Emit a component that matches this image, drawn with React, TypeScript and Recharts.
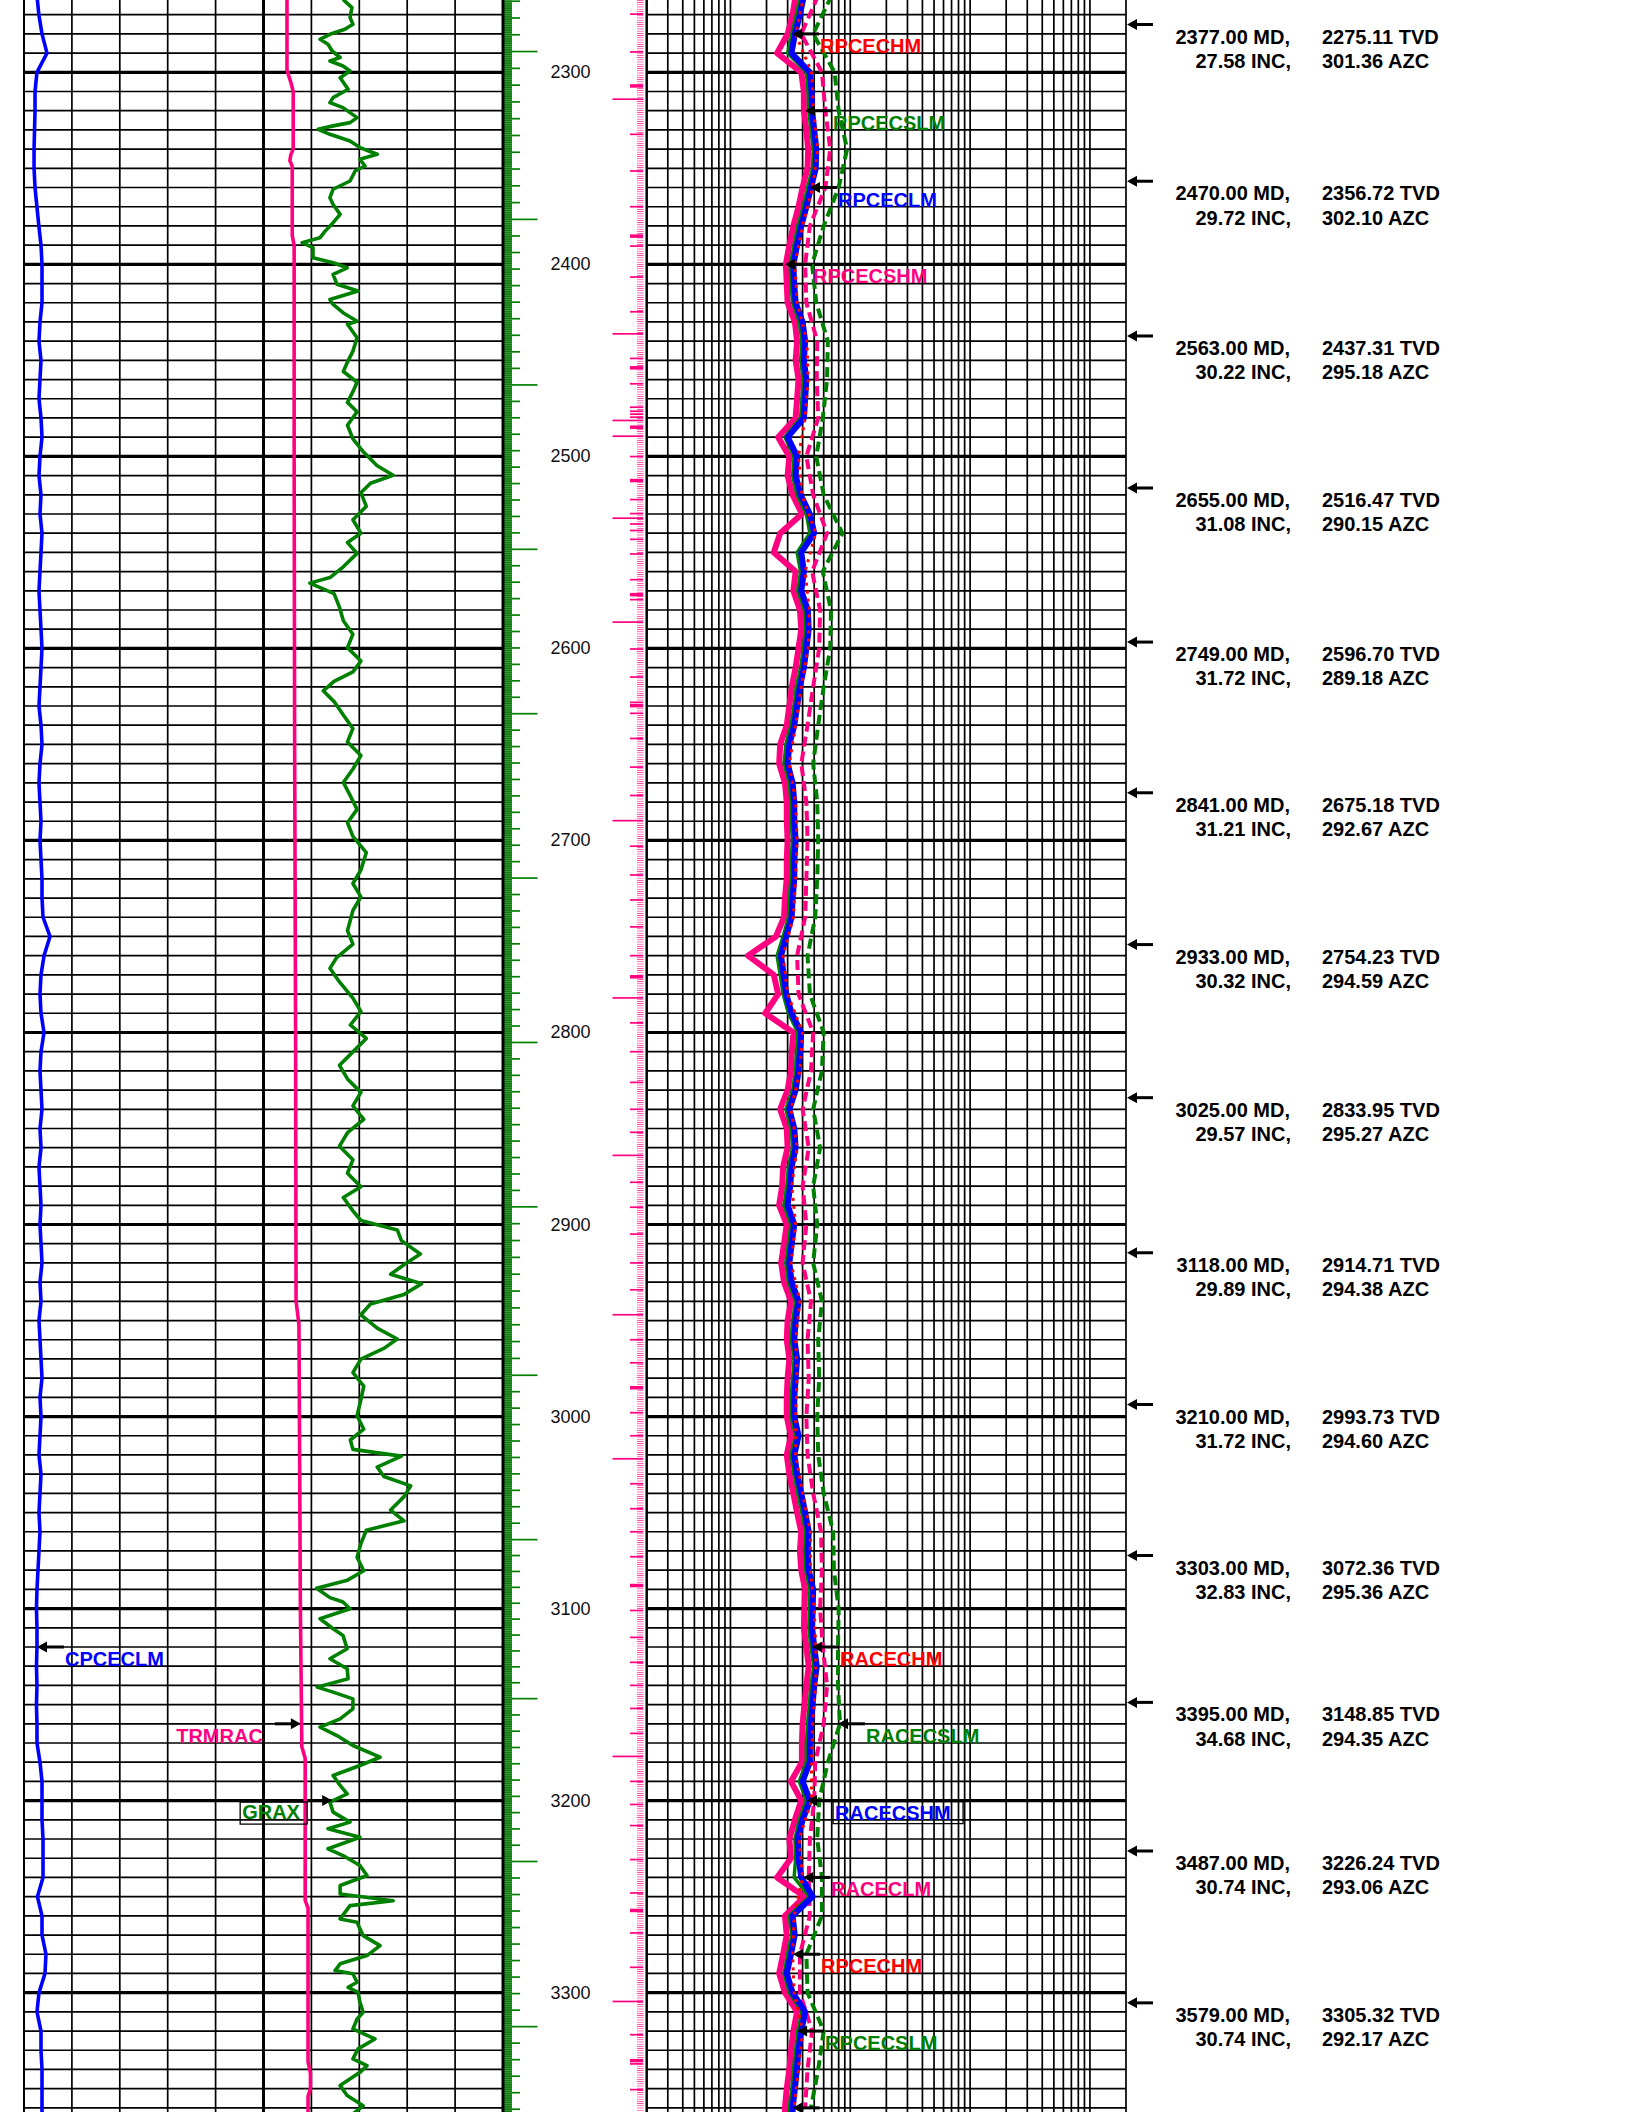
import React from 'react';
import {
  ComposedChart,
  Line,
  XAxis,
  YAxis,
  ReferenceLine,
  ReferenceArea,
  ReferenceDot,
} from 'recharts';

// page / track geometry (pixels)
const W = 1632;
const H = 2112;
const TOP = 2262.35;
const BOTTOM = 3362.15;
const LEFT_X0 = 24;
const LEFT_X1 = 503;
const RIGHT_X0 = 646.7;
const RIGHT_X1 = 1126;

const FONT = '"Liberation Sans", Arial, Helvetica, sans-serif';
const GREEN = '#008000';
const BLUE = '#0000ff';
const PINK = '#ff0080';
const RED = '#ff0000';

// ---------- data ----------
const RES_DEPTHS = [
  2260, 2270, 2280, 2290, 2300, 2310, 2320, 2330, 2340, 2350,
  2360, 2370, 2380, 2390, 2400, 2410, 2420, 2430, 2440, 2450,
  2460, 2470, 2480, 2490, 2500, 2510, 2520, 2530, 2540, 2550,
  2560, 2570, 2580, 2590, 2600, 2610, 2620, 2630, 2640, 2650,
  2660, 2670, 2680, 2690, 2700, 2710, 2720, 2730, 2740, 2750,
  2760, 2770, 2780, 2790, 2800, 2810, 2820, 2830, 2840, 2850,
  2860, 2870, 2880, 2890, 2900, 2910, 2920, 2930, 2940, 2950,
  2960, 2970, 2980, 2990, 3000, 3010, 3020, 3030, 3040, 3050,
  3060, 3070, 3080, 3090, 3100, 3110, 3120, 3130, 3140, 3150,
  3160, 3170, 3180, 3190, 3200, 3210, 3220, 3230, 3240, 3250,
  3260, 3270, 3280, 3290, 3300, 3310, 3320, 3330, 3340, 3350,
  3360, 3370,
];

const RES_DEPTHS_20 = [
  2260, 2280, 2300, 2320, 2340, 2360, 2380, 2400, 2420, 2440,
  2460, 2480, 2500, 2520, 2540, 2560, 2580, 2600, 2620, 2640,
  2660, 2680, 2700, 2720, 2740, 2760, 2780, 2800, 2820, 2840,
  2860, 2880, 2900, 2920, 2940, 2960, 2980, 3000, 3020, 3040,
  3060, 3080, 3100, 3120, 3140, 3160, 3180, 3200, 3220, 3240,
  3260, 3280, 3300, 3320, 3340, 3360,
];

const RPCECLM = [
  4.1, 3.8, 3.45, 3.23, 4.6, 4.75, 4.8, 5.0, 5.2, 5.15,
  4.7, 4.3, 3.9, 3.6, 3.35, 3.4, 3.5, 4.0, 4.2, 4.1,
  4.3, 4.2, 4.1, 3.0, 3.6, 3.5, 3.85, 4.6, 5.0, 3.9,
  4.1, 3.9, 4.42, 4.5, 4.3, 4.1, 3.8, 3.6, 3.41, 3.1,
  3.0, 3.3, 3.41, 3.41, 3.5, 3.41, 3.41, 3.3, 3.24, 2.92,
  2.64, 2.78, 2.92, 3.24, 3.9, 3.8, 3.7, 3.5, 3.1, 3.41,
  3.5, 3.24, 3.15, 3.0, 3.41, 3.24, 3.1, 3.24, 3.7, 3.5,
  3.41, 3.6, 3.5, 3.41, 3.41, 3.7, 3.41, 3.6, 3.9, 4.2,
  4.5, 4.42, 4.5, 4.9, 4.85, 4.8, 5.0, 5.25, 5.0, 4.85,
  4.7, 4.6, 4.6, 4.0, 4.6, 4.0, 3.65, 3.7, 3.9, 4.85,
  3.3, 3.44, 3.2, 2.95, 3.3, 4.2, 3.9, 3.7, 3.58, 3.45,
  3.3, 3.3,
];

const RPCECSHM = [
  3.5, 3.3, 3.0, 2.45, 3.9, 4.1, 4.1, 4.3, 4.45, 4.4,
  4.0, 3.7, 3.35, 3.1, 2.9, 2.95, 3.0, 3.45, 3.6, 3.5,
  3.7, 3.6, 3.5, 2.5, 3.1, 3.0, 3.3, 3.95, 2.6, 2.3,
  3.5, 3.35, 3.8, 3.9, 3.7, 3.5, 3.25, 3.1, 2.95, 2.6,
  2.55, 2.85, 2.95, 2.95, 3.0, 2.95, 2.95, 2.85, 2.8, 2.4,
  1.4, 2.3, 2.5, 1.95, 3.35, 3.25, 3.2, 3.0, 2.6, 2.95,
  3.0, 2.75, 2.7, 2.55, 2.95, 2.8, 2.65, 2.8, 3.2, 3.0,
  2.95, 3.1, 3.0, 2.95, 2.95, 3.2, 2.95, 3.1, 3.35, 3.6,
  3.9, 3.8, 3.9, 4.2, 4.15, 4.1, 4.3, 4.5, 4.3, 4.15,
  4.0, 3.95, 3.95, 3.2, 3.9, 3.45, 3.1, 3.2, 2.45, 4.15,
  2.85, 2.95, 2.75, 2.55, 2.85, 3.6, 3.35, 3.2, 3.1, 2.95,
  2.85, 2.85,
];

const RPCECSLM = [
  3.85, 3.55, 3.25, 3.0, 4.3, 4.45, 4.5, 4.7, 4.9, 4.85,
  4.4, 4.05, 3.65, 3.4, 3.15, 3.2, 3.3, 3.75, 3.95, 3.85,
  4.05, 3.95, 3.85, 2.85, 3.4, 3.3, 3.6, 4.3, 4.6, 3.6,
  3.85, 3.65, 4.15, 4.25, 4.05, 3.85, 3.55, 3.4, 3.2, 2.9,
  2.8, 3.1, 3.2, 3.2, 3.3, 3.2, 3.2, 3.1, 3.05, 2.75,
  2.45, 2.6, 2.75, 3.05, 3.65, 3.55, 3.5, 3.3, 2.9, 3.2,
  3.3, 3.05, 2.95, 2.8, 3.2, 3.05, 2.9, 3.05, 3.5, 3.3,
  3.2, 3.4, 3.3, 3.2, 3.2, 3.5, 3.2, 3.4, 3.65, 3.95,
  4.25, 4.15, 4.25, 4.6, 4.55, 4.5, 4.7, 4.95, 4.7, 4.55,
  4.4, 4.3, 4.3, 3.75, 4.3, 3.75, 3.45, 3.5, 3.4, 4.55,
  3.1, 3.25, 3.0, 2.8, 3.1, 3.95, 3.65, 3.5, 3.35, 3.25,
  3.1, 3.1,
];

const RPCECHM = [
  4.1, 3.5, 4.75, 4.95, 5.35, 4.85, 4.0, 3.45, 3.6, 4.35,
  4.45, 4.2, 3.7, 3.95, 5.15, 4.2, 4.55, 4.45, 3.9, 3.5,
  3.1, 3.5, 3.6, 3.5, 3.35, 2.75, 3.0, 4.0, 3.8, 3.2,
  3.6, 3.25, 3.5, 3.2, 3.8, 3.5, 3.6, 3.5, 3.5, 4.0,
  4.65, 4.65, 5.0, 5.15, 5.15, 4.85, 4.75, 4.75, 3.75, 4.0,
  3.4, 3.3, 3.4, 4.0, 3.7, 3.4,
];

const RACECLM = [
  5.4, 3.9, 5.8, 6.2, 6.8, 6.2, 4.6, 4.2, 4.3, 5.3,
  5.25, 5.4, 4.3, 4.9, 6.4, 4.8, 5.6, 5.5, 4.9, 4.4,
  3.9, 4.3, 4.4, 4.3, 4.2, 3.6, 3.7, 4.9, 4.7, 4.0,
  4.5, 4.0, 4.3, 4.0, 4.7, 4.4, 4.5, 4.3, 4.4, 4.9,
  5.7, 5.8, 5.6, 5.9, 6.4, 6.0, 5.1, 5.0, 4.6, 4.5,
  4.6, 3.8, 3.8, 4.8, 4.4, 4.2,
];

const RACECSLM = [
  7.0, 4.9, 7.4, 8.0, 9.4, 8.0, 6.0, 4.8, 5.2, 6.5,
  6.4, 5.9, 5.2, 6.0, 8.6, 5.9, 6.9, 6.8, 6.0, 5.4,
  4.9, 5.3, 5.4, 5.3, 5.1, 4.4, 4.6, 6.0, 5.8, 4.9,
  5.6, 4.9, 5.3, 4.9, 5.8, 5.4, 5.5, 5.3, 5.4, 6.0,
  7.2, 7.3, 8.0, 7.9, 7.9, 8.2, 6.5, 5.5, 5.3, 5.8,
  5.8, 4.3, 4.4, 6.0, 5.4, 4.7,
];

// conductivity, mmho/m, on RES_DEPTHS
const CPCECLM = [
  270, 310, 376, 480, 270, 230, 230, 220, 210, 210,
  230, 270, 310, 355, 376, 376, 376, 334, 313, 355,
  334, 313, 355, 376, 334, 313, 355, 334, 376, 355,
  334, 313, 334, 355, 376, 355, 334, 313, 355, 376,
  334, 313, 334, 355, 334, 355, 376, 376, 397, 543,
  418, 355, 334, 355, 418, 355, 334, 355, 376, 334,
  355, 313, 334, 355, 334, 355, 376, 334, 355, 313,
  334, 355, 376, 334, 355, 334, 313, 355, 334, 313,
  334, 313, 292, 271, 260, 271, 271, 260, 271, 260,
  271, 271, 334, 376, 376, 376, 397, 397, 397, 280,
  376, 376, 459, 438, 313, 271, 355, 355, 376, 376,
  376, 376,
];

const TRMRAC_DEPTHS = [
  2260, 2299, 2306, 2310, 2340, 2343, 2346, 2349, 2385, 2390,
  2500, 2650, 2800, 2940, 2952, 3000, 3100, 3172, 3178, 3252,
  3256, 3336, 3342, 3350, 3354, 3366,
];
const TRMRAC = [
  54.9, 54.9, 55.8, 56.2, 56.2, 55.7, 55.5, 56.0, 56.0, 56.4,
  56.4, 56.5, 56.7, 56.8, 57.4, 57.5, 57.7, 58.0, 58.7, 58.7,
  59.3, 59.3, 59.8, 59.8, 59.3, 59.3,
];

const GR_DEPTHS = [
  2262, 2266.3, 2271.5, 2275, 2277.6, 2280.2, 2282.8, 2285.4, 2288.9, 2292.3,
  2294.1, 2296.7, 2299.3, 2302.8, 2308.8, 2313.2, 2315.8, 2318.4, 2323.6, 2326.2,
  2327.9, 2329.7, 2332.3, 2335.8, 2339.2, 2342.7, 2345.3, 2348.8, 2351.4, 2356.6,
  2360.9, 2365.3, 2368.8, 2374, 2378.3, 2382.7, 2386.1, 2388.7, 2391.3, 2396.6,
  2399.2, 2401.8, 2405.2, 2410.4, 2413.9, 2418.3, 2420.9, 2425.2, 2429.6, 2431.2,
  2438.2, 2445.2, 2450.9, 2455.8, 2461.4, 2466.3, 2471.9, 2476.8, 2483.8, 2490.9,
  2497.9, 2504.9, 2509.8, 2514, 2518.9, 2526, 2533, 2540, 2544.9, 2550.5,
  2557.5, 2563.1, 2566, 2571.5, 2578.6, 2585.6, 2592.6, 2599.6, 2606.6, 2612.2,
  2617.2, 2622.1, 2627.7, 2634.7, 2641.7, 2648.7, 2655.8, 2662.8, 2669.8, 2676.8,
  2683.8, 2690.8, 2697.9, 2706.3, 2715.4, 2722.4, 2729.4, 2736.5, 2747, 2754,
  2761, 2766.6, 2773.7, 2782.1, 2789.1, 2796.1, 2803.1, 2810.1, 2817.1, 2824.2,
  2831.2, 2838.2, 2845.2, 2852.2, 2859.2, 2866.3, 2873.3, 2880.3, 2885.9, 2892.9,
  2897.9, 2902.8, 2908.4, 2915.4, 2921, 2925.9, 2930.8, 2936.4, 2941.4, 2947,
  2954, 2959.6, 2964.5, 2970.1, 2977.1, 2984.1, 2991.2, 2999.6, 3006.6, 3012.2,
  3017.1, 3020.6, 3026.3, 3031.2, 3036.1, 3041.7, 3048.7, 3054.3, 3059.2, 3066.2,
  3073.3, 3080.3, 3085.2, 3089.4, 3094.3, 3096.6, 3100.1, 3105.3, 3110.5, 3114,
  3120.9, 3126.1, 3131.3, 3136.5, 3140.9, 3143.5, 3147, 3152.2, 3157.4, 3161.7,
  3166.1, 3171.3, 3177.4, 3181.7, 3186.9, 3192.1, 3196.5, 3200.8, 3206, 3211.2,
  3214.7, 3219.1, 3225.1, 3228.6, 3233.8, 3239, 3244.2, 3248.6, 3252.1, 3254.7,
  3261.6, 3263.3, 3266.8, 3270.3, 3275.5, 3280.7, 3285, 3288.5, 3290.2, 3294.6,
  3297.2, 3299.8, 3305, 3310.2, 3313.7, 3318.9, 3324.1, 3329.3, 3334.5, 3338,
  3341.5, 3348.4, 3353.6, 3358.9, 3363.2,
];
const GRAX = [
  99.9, 102.7, 102.1, 103.0, 100.5, 95.8, 92.7, 95.2, 96.5, 99.0,
  95.8, 99.9, 102.1, 99.0, 101.5, 96.8, 95.8, 99.9, 104.3, 102.1,
  96.8, 92.1, 95.8, 102.1, 105.2, 110.6, 105.2, 106.8, 103.7, 102.1,
  96.8, 95.8, 96.8, 99.0, 96.8, 94.3, 92.7, 87.1, 90.5, 90.5,
  96.8, 101.2, 96.8, 98.0, 104.6, 95.8, 96.8, 99.9, 104.3, 101.3,
  104.3, 103.0, 101.3, 100.0, 104.3, 103.0, 101.3, 104.3, 101.3, 103.0,
  106.4, 110.6, 115.6, 108.5, 105.5, 107.2, 103.0, 105.5, 101.3, 104.3,
  100.0, 95.8, 89.5, 97.1, 98.8, 100.0, 103.0, 101.3, 105.5, 103.0,
  97.1, 93.7, 97.1, 100.0, 103.0, 101.3, 105.5, 103.0, 100.0, 102.2,
  104.3, 101.3, 103.0, 107.2, 105.5, 103.0, 105.5, 103.0, 101.3, 103.0,
  97.9, 95.8, 98.8, 103.0, 105.5, 102.2, 107.2, 103.0, 98.8, 101.3,
  105.5, 103.0, 106.4, 101.3, 98.8, 103.0, 101.3, 105.5, 100.0, 103.0,
  105.5, 116.9, 118.2, 124.1, 119.0, 114.8, 124.5, 119.0, 108.5, 105.5,
  110.6, 116.9, 112.7, 105.5, 103.0, 106.4, 105.5, 104.3, 106.4, 102.2,
  103.0, 118.2, 110.6, 112.7, 121.1, 119.0, 114.8, 119.0, 107.2, 105.5,
  104.3, 106.4, 101.3, 91.6, 95.8, 99.9, 102.1, 92.7, 96.8, 99.9,
  101.2, 95.8, 101.2, 101.5, 91.8, 96.8, 103.0, 103.0, 99.0, 92.7,
  98.0, 103.0, 111.5, 105.2, 96.8, 99.0, 101.2, 95.8, 96.8, 102.1,
  95.2, 105.2, 95.2, 99.9, 105.2, 107.4, 99.0, 99.0, 115.6, 102.1,
  99.0, 104.3, 105.2, 106.2, 111.5, 107.4, 99.0, 97.4, 103.0, 104.3,
  101.5, 104.6, 105.2, 106.2, 104.3, 103.0, 109.9, 104.6, 103.0, 107.4,
  105.2, 99.0, 101.2, 106.2, 103.0,
];

// survey stations
const SURVEY_MD = [2377, 2470, 2563, 2655, 2749, 2841, 2933, 3025, 3118, 3210, 3303, 3395, 3487, 3579];
const SURVEY_TVD = [2275.11, 2356.72, 2437.31, 2516.47, 2596.7, 2675.18, 2754.23, 2833.95, 2914.71, 2993.73, 3072.36, 3148.85, 3226.24, 3305.32];
const SURVEY_INC = [27.58, 29.72, 30.22, 31.08, 31.72, 31.21, 30.32, 29.57, 29.89, 31.72, 32.83, 34.68, 30.74, 30.74];
const SURVEY_AZC = [301.36, 302.1, 295.18, 290.15, 289.18, 292.67, 294.59, 295.27, 294.38, 294.6, 295.36, 294.35, 293.06, 292.17];

const DEPTH_LABELS = [2300, 2400, 2500, 2600, 2700, 2800, 2900, 3000, 3100, 3200, 3300];

// depth-track tick marks
const GREEN_MAJOR = [2289.2, 2376.6, 2462.8, 2548.4, 2634.0, 2719.6, 2805.2, 2890.8, 2978.5, 3064.1, 3146.9, 3231.7, 3317.7];
const PINK_SHORT = [
  2269.7, 2289.4, 2332.3, 2351.4, 2370.0, 2390.5, 2406.6, 2424.7, 2449.0, 2462.2,
  2474.4, 2476.5, 2478.0, 2479.6, 2500.1, 2522.5, 2529.8, 2535.2, 2538.6, 2543.2,
  2550.8, 2564.2, 2574.6, 2600.3, 2614.9, 2628.1, 2633.8, 2646.9, 2661.8, 2676.6,
  2703, 2718, 2731, 2745, 2760, 2795, 2810, 2826, 2840, 2852,
  2878, 2891, 2905, 2920, 2934, 2960, 2972, 2998, 3010, 3035,
  3048, 3060, 3073, 3101, 3115, 3128, 3140, 3152, 3165, 3190,
  3202, 3213.0, 3230.7, 3248.1, 3268.9, 3286.8, 3321.9, 3337.1, 3350.5,
];
const PINK_LONG = [2314.0, 2436.2, 2481.3, 2489.5, 2532.2, 2586.3, 2689.7, 2782, 2864, 2947, 3022, 3177, 3304.6];
const PINK_HEAVY = [2307.1, 2385.3, 2453.9, 2484.8, 2512.6, 2572.0, 2629.8, 2771, 2985, 3088, 3257.2, 3335.4];

// curve labels: tip value on its axis at depth (empty text = arrow only, label runs off the page)
const CURVE_LABELS = [
  { text: 'RPCECHM', color: RED, axis: 'res', depth: 2280, tip: 3.27, side: 'right' },
  { text: 'RPCECSLM', color: GREEN, axis: 'res', depth: 2320, tip: 4.19, side: 'right' },
  { text: 'RPCECLM', color: BLUE, axis: 'res', depth: 2360, tip: 4.61, side: 'right' },
  { text: 'RPCECSHM', color: PINK, axis: 'res', depth: 2400, tip: 2.85, side: 'right' },
  { text: 'RACECHM', color: RED, axis: 'res', depth: 3120, tip: 4.8, side: 'right' },
  { text: 'RACECSLM', color: GREEN, axis: 'res', depth: 3160, tip: 7.9, side: 'right' },
  { text: 'RACECSHM', color: BLUE, axis: 'res', depth: 3200, tip: 4.36, side: 'right', box: 130 },
  { text: 'RACECLM', color: PINK, axis: 'res', depth: 3240, tip: 4.04, side: 'right' },
  { text: 'RPCECHM', color: RED, axis: 'res', depth: 3280, tip: 3.33, side: 'right' },
  { text: 'RPCECSLM', color: GREEN, axis: 'res', depth: 3320, tip: 3.6, side: 'right' },
  { text: '', color: BLUE, axis: 'res', depth: 3360, tip: 3.3, side: 'right' },
  { text: 'CPCECLM', color: BLUE, axis: 'cond', depth: 3120, tip: 271, side: 'right' },
  { text: 'TRMRAC', color: PINK, axis: 'trm', depth: 3160, tip: 57.8, side: 'left' },
  { text: 'GRAX', color: GREEN, axis: 'gr', depth: 3200, tip: 96.5, side: 'left', box: 67 },
];

// ---------- helpers ----------
const zip = (depths: number[], vals: number[]) => depths.map((d, i) => ({ d, v: vals[i] }));

const linDomain = (lo: number, hi: number) => {
  const k = (hi - lo) / (LEFT_X1 - LEFT_X0);
  return [lo - LEFT_X0 * k, hi + (W - LEFT_X1) * k];
};
const logDomain = (lo: number, hi: number) => {
  const dec = (RIGHT_X1 - RIGHT_X0) / Math.log10(hi / lo);
  return [lo * Math.pow(10, -RIGHT_X0 / dec), hi * Math.pow(10, (W - RIGHT_X1) / dec)];
};

const GR_GRID = [0, 15, 30, 45, 60, 75, 90, 105, 120, 135, 150];
const RES_GRID: number[] = [];
[0.1, 1, 10, 100, 1000].forEach((dec) => {
  for (let m = 1; m <= 9; m++) {
    const v = +(dec * m).toPrecision(3);
    if (v >= 0.2 && v <= 2000) RES_GRID.push(v);
  }
});

const arrowLeft = (tx: number, ty: number, len: number) => (
  <g>
    <line x1={tx + 7} y1={ty} x2={tx + len} y2={ty} stroke="#000" strokeWidth={3} />
    <polygon points={`${tx},${ty} ${tx + 10},${ty - 5.5} ${tx + 10},${ty + 5.5}`} fill="#000" />
  </g>
);
const arrowRight = (tx: number, ty: number, len: number) => (
  <g>
    <line x1={tx - len} y1={ty} x2={tx - 7} y2={ty} stroke="#000" strokeWidth={3} />
    <polygon points={`${tx},${ty} ${tx - 10},${ty - 5.5} ${tx - 10},${ty + 5.5}`} fill="#000" />
  </g>
);

const labelShape = (lab: any) => (p: any) => {
  const { cx, cy } = p;
  if (cx == null || cy == null) return <g />;
  const textProps = { fill: lab.color, fontSize: 20, fontWeight: 'bold' as const, fontFamily: FONT };
  if (lab.side === 'right') {
    return (
      <g>
        {arrowLeft(cx, cy, 27)}
        {lab.box ? (
          <rect x={cx + 26} y={cy + 1} width={lab.box} height={22} fill="none" stroke="#000" strokeWidth={1.3} />
        ) : null}
        {lab.text ? <text x={cx + 28} y={cy + 19} {...textProps}>{lab.text}</text> : null}
      </g>
    );
  }
  if (lab.box) {
    const bx = cx - 25 - lab.box;
    return (
      <g>
        {arrowRight(cx, cy, 24)}
        <rect x={bx} y={cy + 1.5} width={lab.box} height={22} fill="none" stroke="#000" strokeWidth={1.3} />
        <text x={bx + 2} y={cy + 18.5} {...textProps}>{lab.text}</text>
      </g>
    );
  }
  return (
    <g>
      {arrowRight(cx, cy, 26)}
      <text x={cx - 38} y={cy + 18.7} textAnchor="end" {...textProps}>{lab.text}</text>
    </g>
  );
};

const surveyShape = (i: number) => (p: any) => {
  const { cx, cy } = p;
  if (cx == null || cy == null) return <g />;
  const t = { fill: '#000', fontSize: 20, fontWeight: 'bold' as const, fontFamily: FONT };
  return (
    <g>
      {arrowLeft(cx, cy, 26)}
      <text x={cx + 163} y={cy + 19} textAnchor="end" {...t}>{`${SURVEY_MD[i].toFixed(2)} MD,`}</text>
      <text x={cx + 195} y={cy + 19} {...t}>{`${SURVEY_TVD[i].toFixed(2)} TVD`}</text>
      <text x={cx + 164} y={cy + 43.3} textAnchor="end" {...t}>{`${SURVEY_INC[i].toFixed(2)} INC,`}</text>
      <text x={cx + 195} y={cy + 43.3} {...t}>{`${SURVEY_AZC[i].toFixed(2)} AZC`}</text>
    </g>
  );
};

const depthLabelShape = (d: number) => (p: any) => {
  const { cx, cy } = p;
  if (cx == null || cy == null) return <g />;
  return (
    <text x={cx} y={cy} textAnchor="middle" dominantBaseline="central" fontSize={18} fontFamily={FONT} fill="#111">
      {d}
    </text>
  );
};

const stripeRect = (id: string, base: string, stripe: string) => (p: any) => (
  <g>
    <defs>
      <pattern id={id} width={4} height={2.2} patternUnits="userSpaceOnUse">
        <rect x={0} y={0} width={4} height={2.2} fill={base} />
        <rect x={0} y={0} width={4} height={0.8} fill={stripe} />
      </pattern>
    </defs>
    <rect x={p.x} y={p.y} width={p.width} height={p.height} fill={`url(#${id})`} />
  </g>
);

const App: React.FC = () => {
  const grData = zip(GR_DEPTHS, GRAX);
  const trmData = zip(TRMRAC_DEPTHS, TRMRAC);
  const condData = zip(RES_DEPTHS, CPCECLM);
  const blueData = zip(RES_DEPTHS, RPCECLM);
  const pinkData = zip(RES_DEPTHS, RPCECSHM);
  const greenData = zip(RES_DEPTHS, RPCECSLM);
  const redData = zip(RES_DEPTHS_20, RPCECHM);
  const pinkDashData = zip(RES_DEPTHS_20, RACECLM);
  const greenDashData = zip(RES_DEPTHS_20, RACECSLM);

  const minor: number[] = [];
  for (let d = 2270; d <= 3360; d += 10) if (d % 100 !== 0) minor.push(d);

  const greenMinor: number[] = [];
  for (let i = 0; i < GREEN_MAJOR.length - 1; i++) {
    const step = (GREEN_MAJOR[i + 1] - GREEN_MAJOR[i]) / 10;
    for (let k = 1; k < 10; k++) greenMinor.push(GREEN_MAJOR[i] + k * step);
  }
  const firstStep = (GREEN_MAJOR[1] - GREEN_MAJOR[0]) / 10;
  for (let k = 1; GREEN_MAJOR[0] - k * firstStep > TOP; k++) greenMinor.push(GREEN_MAJOR[0] - k * firstStep);
  const n = GREEN_MAJOR.length;
  const lastStep = (GREEN_MAJOR[n - 1] - GREEN_MAJOR[n - 2]) / 10;
  for (let k = 1; GREEN_MAJOR[n - 1] + k * lastStep < BOTTOM; k++) greenMinor.push(GREEN_MAJOR[n - 1] + k * lastStep);

  const seg = (x1: number, x2: number, d: number) => [{ x: x1, y: d }, { x: x2, y: d }];

  return (
    <div style={{ position: 'absolute', left: 0, top: 0, width: W, height: H, background: '#fff' }}>
      <ComposedChart layout="vertical" width={W} height={H} margin={{ top: 0, right: 0, bottom: 0, left: 0 }}>
        <XAxis xAxisId="page" type="number" domain={[0, W]} allowDataOverflow hide />
        <XAxis xAxisId="gr" type="number" domain={linDomain(0, 150)} allowDataOverflow hide />
        <XAxis xAxisId="cond" type="number" domain={linDomain(0, 10000)} allowDataOverflow hide />
        <XAxis xAxisId="trm" type="number" domain={linDomain(0, 100)} allowDataOverflow hide />
        <XAxis xAxisId="res" type="number" scale="log" domain={logDomain(0.2, 2000)} allowDataOverflow hide />
        <YAxis type="number" dataKey="d" domain={[TOP, BOTTOM]} allowDataOverflow hide />

        {/* thin depth grid, 10 ft */}
        {minor.map((d) => (
          <ReferenceLine key={`l${d}`} xAxisId="page" segment={seg(LEFT_X0, LEFT_X1, d)} stroke="#000" strokeWidth={1.7} />
        ))}
        {minor.map((d) => (
          <ReferenceLine key={`r${d}`} xAxisId="page" segment={seg(RIGHT_X0, RIGHT_X1, d)} stroke="#000" strokeWidth={1.7} />
        ))}
        {/* vertical grid */}
        {GR_GRID.map((v) => (
          <ReferenceLine key={`g${v}`} xAxisId="gr" x={v} stroke="#000" strokeWidth={v === 75 || v === 150 ? 3 : v === 0 ? 2 : 1.7} />
        ))}
        {RES_GRID.map((v) => (
          <ReferenceLine key={`v${v}`} xAxisId="res" x={v} stroke="#000" strokeWidth={v === 0.2 ? 2.5 : 1.7} />
        ))}
        {/* heavy 100 ft lines */}
        {DEPTH_LABELS.map((d) => (
          <ReferenceLine key={`hl${d}`} xAxisId="page" segment={seg(LEFT_X0, LEFT_X1, d)} stroke="#000" strokeWidth={3.2} />
        ))}
        {DEPTH_LABELS.map((d) => (
          <ReferenceLine key={`hr${d}`} xAxisId="page" segment={seg(RIGHT_X0, RIGHT_X1, d)} stroke="#000" strokeWidth={3.2} />
        ))}

        {/* depth track */}
        <ReferenceArea xAxisId="page" x1={504} x2={512} y1={TOP} y2={BOTTOM} shape={stripeRect('gbar', '#0f7a0f', '#3f9f3f')} />
        <ReferenceArea xAxisId="page" x1={637} x2={643.5} y1={TOP} y2={BOTTOM} shape={stripeRect('pbar', '#ffffff', '#ff3d9e')} />
        {greenMinor.map((d, i) => (
          <ReferenceLine key={`gm${i}`} xAxisId="page" segment={seg(512, 520, d)} stroke={GREEN} strokeWidth={1.7} />
        ))}
        {GREEN_MAJOR.map((d, i) => (
          <ReferenceLine key={`gM${i}`} xAxisId="page" segment={seg(512, 537.5, d)} stroke={GREEN} strokeWidth={1.7} />
        ))}
        {PINK_SHORT.map((d, i) => (
          <ReferenceLine key={`ps${i}`} xAxisId="page" segment={seg(630, 643, d)} stroke={PINK} strokeWidth={1.7} />
        ))}
        {PINK_LONG.map((d, i) => (
          <ReferenceLine key={`pl${i}`} xAxisId="page" segment={seg(612.5, 643, d)} stroke={PINK} strokeWidth={1.7} />
        ))}
        {PINK_HEAVY.map((d, i) => (
          <ReferenceLine key={`ph${i}`} xAxisId="page" segment={seg(630, 643, d)} stroke={PINK} strokeWidth={3.5} />
        ))}
        {DEPTH_LABELS.map((d) => (
          <ReferenceDot key={`dl${d}`} xAxisId="page" x={570.5} y={d} shape={depthLabelShape(d)} />
        ))}

        {/* left track curves */}
        <Line data={grData} dataKey="v" xAxisId="gr" stroke={GREEN} strokeWidth={3.6} dot={false} activeDot={false} isAnimationActive={false} strokeLinejoin="round" />
        <Line data={trmData} dataKey="v" xAxisId="trm" stroke={PINK} strokeWidth={3.6} dot={false} activeDot={false} isAnimationActive={false} strokeLinejoin="round" />
        <Line data={condData} dataKey="v" xAxisId="cond" stroke={BLUE} strokeWidth={3.6} dot={false} activeDot={false} isAnimationActive={false} strokeLinejoin="round" />

        {/* right track curves */}
        <Line data={greenDashData} dataKey="v" xAxisId="res" stroke={GREEN} strokeWidth={4} strokeDasharray="10 5" dot={false} activeDot={false} isAnimationActive={false} />
        <Line data={pinkDashData} dataKey="v" xAxisId="res" stroke={PINK} strokeWidth={4} strokeDasharray="10 5" dot={false} activeDot={false} isAnimationActive={false} />
        <Line data={pinkData} dataKey="v" xAxisId="res" stroke={PINK} strokeWidth={6} dot={false} activeDot={false} isAnimationActive={false} strokeLinejoin="round" />
        <Line data={greenData} dataKey="v" xAxisId="res" stroke={GREEN} strokeWidth={3.5} dot={false} activeDot={false} isAnimationActive={false} strokeLinejoin="round" />
        <Line data={blueData} dataKey="v" xAxisId="res" stroke={BLUE} strokeWidth={6} dot={false} activeDot={false} isAnimationActive={false} strokeLinejoin="round" />
        <Line data={redData} dataKey="v" xAxisId="res" stroke={RED} strokeWidth={3} strokeDasharray="3 5" dot={false} activeDot={false} isAnimationActive={false} />

        {/* labels */}
        {CURVE_LABELS.map((lab, i) => (
          <ReferenceDot key={`cl${i}`} xAxisId={lab.axis} x={lab.tip} y={lab.depth} shape={labelShape(lab)} />
        ))}
        {SURVEY_TVD.map((tvd, i) => (
          <ReferenceDot key={`sv${i}`} xAxisId="page" x={1127} y={tvd} shape={surveyShape(i)} />
        ))}
      </ComposedChart>
    </div>
  );
};

export default App;
